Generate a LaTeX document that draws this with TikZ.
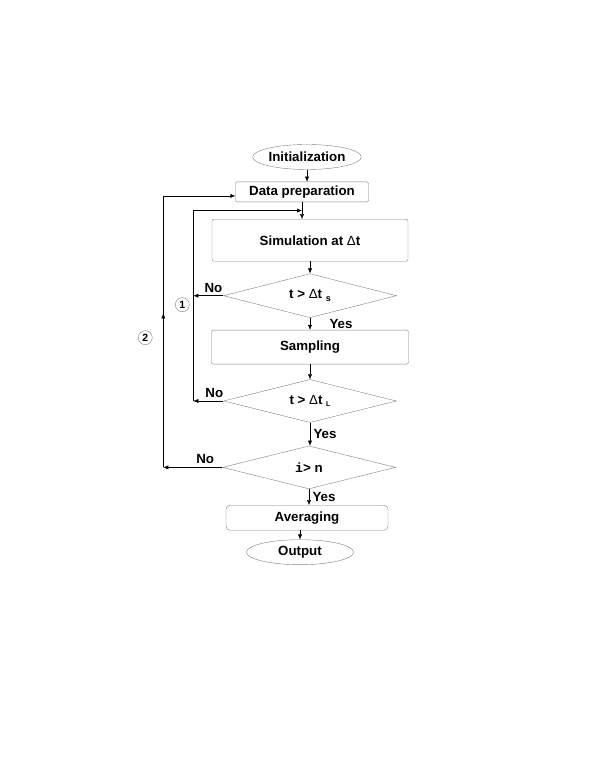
\documentclass[tikz,border=0pt]{standalone}
\usepackage{fontspec}
\setmainfont{Liberation Sans}
\setmonofont{Liberation Mono}
\usetikzlibrary{arrows.meta, positioning, shapes.geometric, calc, decorations.markings}

\begin{document}
\begin{tikzpicture}[
    x=1pt, y=1pt,
    node distance=12pt,
    font=\fontsize{13.3}{16}\selectfont\bfseries,
    box/.style={draw=gray, rounded corners=2pt, align=center, inner sep=0pt},
    term/.style={draw=gray, ellipse, inner sep=0pt, minimum width=106pt, minimum height=25pt},
    decision/.style={draw=gray, diamond, aspect=3.9, inner sep=0pt, minimum width=173pt, minimum height=44pt},
    num/.style={draw=gray, circle, inner sep=0pt, minimum size=14pt, font=\fontsize{10.5}{12}\selectfont\bfseries},
    arrow/.style={-{Latex[length=5pt, width=4pt]}, thin},
    midarrow/.style={postaction={decorate}, decoration={markings, mark=at position #1 with {\arrow{Latex[length=5pt, width=4pt]}}}}
]
    \useasboundingbox (0,0) rectangle (595,770);

    % main chain
    \node[term] (init) at (307,613) {Initialization};
    \node[box, minimum width=133pt, minimum height=20pt, below=12pt of init, xshift=-5pt] (prep) {Data preparation};
    \node[box, minimum width=196pt, minimum height=42pt, below=17pt of prep, xshift=8pt] (sim) {Simulation at {\mdseries Δ}t};
    \node[decision, below=12pt of sim] (short) {t > {\mdseries Δ}t \raisebox{-2.5pt}{\fontsize{9}{10}\selectfont s}};
    \node[box, minimum width=197pt, minimum height=34pt, below=12pt of short] (samp) {Sampling};
    \node[decision, minimum height=43pt, below=15pt of samp] (long) {t > {\mdseries Δ}t \raisebox{-2.5pt}{\fontsize{7}{8}\selectfont L}};
    \node[decision, minimum height=43pt, below=23pt of long, xshift=-1pt] (iter) {{\ttfamily i}> n};
    \node[box, rounded corners=4pt, minimum width=162pt, minimum height=25pt, below=16pt of iter, xshift=-2pt] (avg) {Averaging};
    \node[term, minimum width=107pt, below=9pt of avg, xshift=-7pt] (out) {Output};

    % loop points
    \coordinate (j1) at ($(long.west)+(-30pt,0)$);
    \coordinate (j2) at ($(iter.west)+(-59pt,0)$);
    \coordinate (top1) at ($(prep.south)!0.5!(sim.north)$);

    \draw[arrow] (init) -- (init |- prep.north);
    \draw[arrow] (prep) -- (prep |- sim.north);
    \draw[arrow] (sim) -- (short);
    \draw[arrow] (short) -- node[right=16pt] {Yes} (samp);
    \draw[arrow] (samp) -- (long);
    \draw[arrow] (long) -- node[right] {Yes} (long |- iter.north);
    \draw[arrow] (iter) -- node[right] {Yes} (iter |- avg.north);
    \draw[arrow] (out |- avg.south) -- (out);

    % loops back
    \draw[arrow] (short.west) -- node[above, pos=0.33] {No} (short.west -| j1);
    \draw[arrow] (long.west) -- node[above, pos=0.3] {No} (j1);
    \draw[arrow] (j1) |- (prep.south |- top1);
    \draw[arrow] (iter.west) -- node[above, pos=0.29] {No} (j2);
    \draw[arrow, midarrow=154pt] (j2) |- ($(prep.west)+(0,-4pt)$);

    \node[num] (one) at ($(short.west -| j1)+(-11pt,-9pt)$) {1};
    \node[num] (two) at ($(j2 |- short.west)+(-18pt,-42pt)$) {2};
\end{tikzpicture}
\end{document}
